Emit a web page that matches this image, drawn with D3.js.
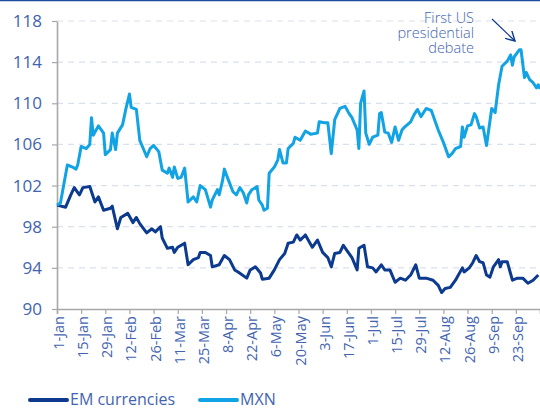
<!DOCTYPE html>
<html>
<head>
<meta charset="utf-8">
<script src="https://cdn.jsdelivr.net/npm/d3@7"></script>
<style>
  body { margin: 0; background: #fff; }
  svg { display: block; font-family: "Open Sans", sans-serif; }
</style>
</head>
<body>
<div id="chart"></div>
<script>
// days since 1 Jan 2016
const mxnDays = [0, 2, 6, 9, 11, 12, 14, 17, 19, 20, 21, 24, 27, 28, 31, 32, 34, 35, 38, 40, 42, 43, 46, 48, 50, 52, 54, 56, 59, 61, 64, 65, 67, 68, 70, 72, 74, 76, 79, 81, 83, 86, 89, 90, 93, 94, 96, 97, 99, 102, 104, 106, 108, 110, 111, 113, 116, 117, 119, 120, 122, 123, 126, 128, 129, 131, 133, 134, 137, 138, 141, 144, 147, 151, 152, 155, 157, 159, 161, 164, 167, 169, 171, 174, 175, 176, 178, 179, 181, 183, 186, 187, 188, 190, 192, 194, 196, 198, 200, 201, 205, 207, 209, 211, 214, 217, 221, 224, 227, 229, 231, 234, 235, 236, 238, 240, 242, 243, 245, 247, 249, 252, 254, 256, 258, 261, 263, 264, 265, 268, 269, 271, 272, 274, 276, 278, 279, 280]
const mxnValues = [100.1, 100.3, 104.0, 103.8, 103.6, 104.0, 105.8, 105.6, 106.0, 108.6, 106.9, 107.8, 107.1, 105.0, 105.5, 107.1, 105.5, 107.1, 107.9, 109.5, 110.9, 109.6, 109.4, 106.4, 105.6, 104.8, 105.6, 105.9, 105.3, 103.5, 103.2, 103.7, 102.8, 103.8, 102.7, 102.8, 103.7, 100.4, 100.9, 100.4, 102.0, 101.6, 99.9, 100.6, 101.6, 101.1, 102.5, 103.6, 102.7, 101.4, 101.1, 101.8, 101.3, 100.3, 101.1, 101.6, 101.9, 100.6, 100.1, 99.6, 99.8, 103.2, 103.8, 104.5, 105.5, 104.2, 104.2, 105.6, 106.1, 106.7, 106.4, 107.3, 107.0, 107.1, 108.2, 108.1, 108.1, 105.1, 108.4, 109.5, 109.7, 109.1, 108.6, 107.4, 105.6, 110.0, 111.2, 107.1, 106.0, 106.7, 106.9, 109.0, 109.1, 107.2, 107.1, 106.2, 107.7, 106.4, 107.4, 107.6, 108.2, 108.9, 109.4, 108.7, 109.5, 109.3, 107.4, 106.2, 104.8, 105.1, 105.6, 105.8, 107.7, 106.7, 107.8, 107.9, 109.0, 108.7, 107.6, 107.7, 105.9, 109.5, 109.1, 111.8, 113.6, 114.1, 114.7, 113.7, 114.5, 115.2, 115.2, 112.5, 113.0, 112.3, 112.0, 111.5, 111.8, 111.4]

const emDays = [0, 5, 8, 10, 13, 15, 19, 22, 24, 27, 31, 32, 35, 37, 41, 44, 46, 48, 52, 55, 57, 60, 61, 64, 67, 68, 70, 74, 76, 79, 82, 83, 86, 89, 90, 94, 97, 100, 103, 105, 110, 112, 115, 118, 119, 123, 126, 129, 132, 134, 137, 139, 141, 144, 148, 151, 154, 157, 159, 161, 164, 166, 168, 171, 174, 175, 178, 180, 183, 185, 188, 190, 193, 196, 199, 202, 205, 208, 210, 214, 218, 221, 223, 225, 228, 231, 235, 236, 239, 241, 243, 245, 247, 249, 251, 253, 256, 257, 258, 261, 264, 267, 270, 273, 276, 279]
const emValues = [100.1, 99.9, 101.1, 101.8, 101.1, 101.8, 101.9, 100.4, 100.9, 99.6, 99.8, 100.0, 97.8, 98.9, 99.3, 98.4, 98.9, 98.3, 97.4, 97.8, 97.5, 98.0, 96.9, 95.9, 96.0, 95.5, 96.0, 96.4, 94.3, 94.8, 95.0, 95.5, 95.5, 95.2, 94.1, 94.3, 95.2, 94.8, 93.8, 93.6, 93.0, 93.8, 94.1, 93.5, 92.9, 93.0, 93.8, 94.8, 95.4, 96.4, 96.5, 97.2, 96.7, 97.2, 96.0, 96.7, 95.5, 95.0, 94.1, 95.4, 95.5, 96.2, 95.7, 95.0, 93.8, 95.9, 96.2, 94.1, 94.0, 93.6, 94.3, 93.8, 93.8, 92.6, 93.0, 92.8, 93.3, 94.3, 93.0, 93.0, 92.8, 92.3, 91.6, 92.0, 92.1, 92.8, 94.0, 93.6, 94.0, 94.5, 95.2, 94.6, 94.5, 93.3, 93.1, 94.1, 94.8, 94.1, 94.6, 94.6, 92.8, 93.0, 93.0, 92.5, 92.8, 93.3]

const tickLabels = ["1-Jan", "15-Jan", "29-Jan", "12-Feb", "26-Feb", "11-Mar", "25-Mar", "8-Apr", "22-Apr", "6-May", "20-May", "3-Jun", "17-Jun", "1-Jul", "15-Jul", "29-Jul", "12-Aug", "26-Aug", "9-Sep", "23-Sep"]
const yTicks = [90, 94, 98, 102, 106, 110, 114, 118]
const seriesNames = ["EM currencies", "MXN"]
const noteLines = ["First US", "presidential", "debate"]

const start = new Date(2016, 0, 1)
const toDate = d => d3.timeDay.offset(start, d)
const parseTick = d3.timeParse("%d-%b-%Y")

const emData = emDays.map((d, i) => ({ date: toDate(d), value: emValues[i] }))
const mxnData = mxnDays.map((d, i) => ({ date: toDate(d), value: mxnValues[i] }))

const width = 540
const height = 409
const plot = { left: 57, right: 540, top: 21, bottom: 309 }

const navy = "#0b3a8e"
const sky = "#11a3e3"
const textBlue = "#4264b0"

const svg = d3.select("#chart")
  .append("svg")
  .attr("width", width)
  .attr("height", height)

// thin rule along the top
svg.append("line")
  .attr("x1", 0).attr("x2", width)
  .attr("y1", 0.5).attr("y2", 0.5)
  .attr("stroke", "#1d4c9e")
  .attr("stroke-width", 1.5)

const xScale = d3.scaleTime()
  .domain([start, toDate(280)])
  .range([plot.left, plot.right])

const yScale = d3.scaleLinear()
  .domain([90, 118])
  .range([plot.bottom, plot.top])

// gridlines
svg.append("g")
  .selectAll("line")
  .data(yTicks.filter(t => t > 90))
  .join("line")
  .attr("x1", plot.left)
  .attr("x2", plot.right)
  .attr("y1", d => yScale(d))
  .attr("y2", d => yScale(d))
  .attr("stroke", "#d9e0ee")
  .attr("stroke-width", 1.2)
  .attr("stroke-dasharray", "6,5")

const yAxis = d3.axisLeft(yScale)
  .tickValues(yTicks)
  .tickSize(5)
  .tickSizeOuter(0)
  .tickPadding(10)

const yG = svg.append("g")
  .attr("transform", `translate(${plot.left},0)`)
  .call(yAxis)
  .attr("font-family", null)
  .attr("font-size", null)
yG.select(".domain").attr("stroke", "#a8a8a8").attr("stroke-width", 1.6)
yG.selectAll(".tick line").attr("stroke", "#a8a8a8").attr("stroke-width", 1.2)
yG.selectAll("text")
  .attr("fill", textBlue)
  .style("font-size", "17px")

const xAxis = d3.axisBottom(xScale)
  .tickValues(tickLabels.map(t => parseTick(t + "-2016")))
  .tickFormat((d, i) => tickLabels[i])
  .tickSize(5)
  .tickSizeOuter(5)

const xG = svg.append("g")
  .attr("transform", `translate(0,${plot.bottom})`)
  .call(xAxis)
  .attr("font-family", null)
  .attr("font-size", null)
xG.select(".domain").attr("stroke", "#a8a8a8").attr("stroke-width", 1.6)
xG.selectAll(".tick line").attr("stroke", "#a8a8a8").attr("stroke-width", 1.2)
xG.selectAll("text")
  .attr("transform", "rotate(-90)")
  .attr("text-anchor", "end")
  .attr("x", -7)
  .attr("y", 0)
  .attr("dy", "0.45em")
  .attr("fill", textBlue)
  .style("font-size", "14.5px")

const line = d3.line()
  .x(d => xScale(d.date))
  .y(d => yScale(d.value))

svg.append("path")
  .datum(emData)
  .attr("fill", "none")
  .attr("stroke", navy)
  .attr("stroke-width", 3)
  .attr("stroke-linejoin", "round")
  .attr("d", line)

svg.append("path")
  .datum(mxnData)
  .attr("fill", "none")
  .attr("stroke", sky)
  .attr("stroke-width", 3)
  .attr("stroke-linejoin", "round")
  .attr("d", line)

// annotation
const note = svg.append("text")
  .attr("text-anchor", "end")
  .attr("fill", textBlue)
  .style("font-size", "14.5px")
  .attr("font-weight", 300)
noteLines.forEach((t, i) => {
  note.append("tspan")
    .attr("x", 474)
    .attr("y", 23 + i * 15)
    .text(t)
})

svg.append("defs").append("marker")
  .attr("id", "arrow")
  .attr("viewBox", "0 0 10 10")
  .attr("refX", 9)
  .attr("refY", 5)
  .attr("markerWidth", 9)
  .attr("markerHeight", 9)
  .attr("orient", "auto")
  .append("path")
  .attr("d", "M0,0 L9,5 L0,10")
  .attr("fill", "none")
  .attr("stroke", navy)
  .attr("stroke-width", 1.3)

svg.append("line")
  .attr("x1", 492).attr("y1", 19)
  .attr("x2", 515).attr("y2", 41)
  .attr("stroke", navy)
  .attr("stroke-width", 1.2)
  .attr("marker-end", "url(#arrow)")

// legend
const legend = svg.append("g")
const legendX = [30, 200]
const colors = [navy, sky]
seriesNames.forEach((name, i) => {
  legend.append("line")
    .attr("x1", legendX[i]).attr("x2", legendX[i] + 37)
    .attr("y1", 400).attr("y2", 400)
    .attr("stroke", colors[i])
    .attr("stroke-width", 4)
    .attr("stroke-linecap", "round")
  legend.append("text")
    .attr("x", legendX[i] + 40)
    .attr("y", 405)
    .attr("fill", textBlue)
    .style("font-size", "16px")
    .text(name)
})
</script>
</body>
</html>
